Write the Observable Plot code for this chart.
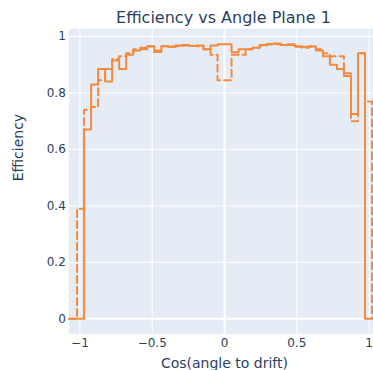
<!DOCTYPE html>
<html>
<head>
<meta charset="utf-8">
<script src="https://cdn.jsdelivr.net/npm/d3@7"></script>
<script src="https://cdn.jsdelivr.net/npm/@observablehq/plot@0.6"></script>
<style>
  html, body { margin: 0; padding: 0; background: white; }
</style>
</head>
<body>
<div id="chart"></div>
<script>
// ---- data ----
const title = "Efficiency vs Angle Plane 1";
const xLabel = "Cos(angle to drift)";
const yLabel = "Efficiency";

const xTicks = [-1, -0.5, 0, 0.5, 1];
const yTicks = [0, 0.2, 0.4, 0.6, 0.8, 1];

// histogram binning: 42 bins spanning [-1.02, 1.02]
const binLo = -1.02;
const binHi = 1.02;
const nBins = 42;
// data range of the traces (padding points at 0)
const xRange = [-1.077, 1.077];

// efficiency per bin, solid trace
const solidEff = [0, 0.67, 0.83, 0.885, 0.84, 0.915, 0.885, 0.935, 0.95, 0.955,
  0.965, 0.945, 0.965, 0.963, 0.968, 0.97, 0.966, 0.968, 0.955, 0.968,
  0.972, 0.972, 0.944, 0.955, 0.955, 0.96, 0.97, 0.972, 0.975, 0.97,
  0.972, 0.965, 0.963, 0.965, 0.95, 0.93, 0.90, 0.885, 0.86, 0.725,
  0.94, 0];

// efficiency per bin, dashed trace
const dashedEff = [0.39, 0.74, 0.75, 0.845, 0.885, 0.92, 0.93, 0.94, 0.955, 0.96,
  0.965, 0.95, 0.965, 0.963, 0.965, 0.968, 0.966, 0.965, 0.955, 0.935,
  0.845, 0.845, 0.935, 0.935, 0.955, 0.96, 0.968, 0.972, 0.972, 0.97,
  0.97, 0.963, 0.96, 0.963, 0.955, 0.94, 0.93, 0.93, 0.87, 0.70,
  0.94, 0.77];

// ---- build ----
const edges = d3.range(nBins + 1).map(i => binLo + i * (binHi - binLo) / nBins);
function steps(vals) {
  return [{x: xRange[0], y: 0},
    ...vals.map((v, i) => ({x: edges[i], y: v})),
    {x: edges[nBins], y: 0},
    {x: xRange[1], y: 0}];
}
const fmt = d => (d < 0 ? "\u2212" + Math.abs(d) : String(d));
const color = "#f58a3d";

const chart = Plot.plot({
  width: 373,
  height: 370,
  marginTop: 28.3,
  marginBottom: 36.7,
  marginLeft: 68.3,
  marginRight: 0,
  style: {
    fontFamily: "'DejaVu Sans', Verdana, sans-serif",
    fontSize: "12px",
    color: "#2a3f5f",
    background: "white"
  },
  x: {domain: [-1.077, 1.03], ticks: xTicks, tickSize: 0, tickPadding: 5, tickFormat: fmt, label: null},
  y: {domain: [-0.053, 1.027], ticks: yTicks, tickSize: 0, tickPadding: 3, tickFormat: fmt, label: null},
  marks: [
    Plot.frame({fill: "#E5ECF6", stroke: null}),
    Plot.ruleX(xTicks, {stroke: "white", strokeWidth: d => (d === 0 ? 2 : 1)}),
    Plot.ruleY(yTicks, {stroke: "white", strokeWidth: d => (d === 0 ? 2 : 1)}),
    Plot.line(steps(dashedEff), {x: "x", y: "y", curve: "step-after", stroke: color, strokeWidth: 2, strokeDasharray: "7,4", clip: true}),
    Plot.line(steps(solidEff), {x: "x", y: "y", curve: "step-after", stroke: color, strokeWidth: 2, clip: true}),
    Plot.text([title], {text: d => d, frameAnchor: "top", lineAnchor: "bottom", dy: -5.8, dx: 2.3, fontSize: 16, fill: "#2a3f5f"}),
    Plot.text([xLabel], {text: d => d, frameAnchor: "bottom", lineAnchor: "bottom", dy: 34, dx: 3.3, fontSize: 14, fill: "#2a3f5f"}),
    Plot.text([yLabel], {text: d => d, frameAnchor: "left", rotate: -90, dx: -50.3, fontSize: 14, fill: "#2a3f5f"})
  ]
});
document.getElementById("chart").appendChild(chart);
</script>
</body>
</html>
